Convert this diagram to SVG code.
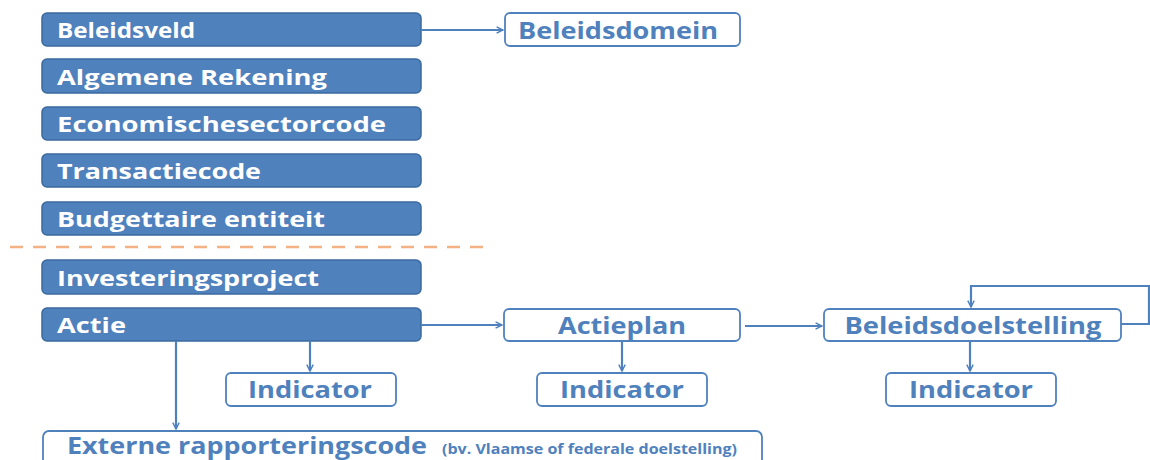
<svg xmlns="http://www.w3.org/2000/svg" width="1150" height="460" viewBox="0 0 1150 460">
<defs>
<style>
.f{fill:#4F81BD;stroke:#3B6A9E;stroke-width:1.5}
.o{fill:#fff;stroke:#4F81BD;stroke-width:1.8}
.tw{font-family:"Open Sans","Liberation Sans",sans-serif;font-weight:bold;font-size:22px;fill:#fff}
.tb{font-family:"Open Sans","Liberation Sans",sans-serif;font-weight:bold;font-size:24px;fill:#4F81BD;text-anchor:middle}
.c{fill:none;stroke:#4F81BD;stroke-width:2.2}
</style>
<marker id="a" viewBox="0 0 10 10" refX="9" refY="5" markerWidth="8" markerHeight="8" markerUnits="userSpaceOnUse" orient="auto">
<path d="M1,1 L9,5 L1,9" fill="none" stroke="#4F81BD" stroke-width="1.8"/>
</marker>
</defs>
<rect width="1150" height="460" fill="#fff"/>
<g id="n-beleidsveld"><rect class="f" x="42" y="13" width="379" height="33" rx="5"/><text class="tw" x="57" y="38" textLength="138" lengthAdjust="spacingAndGlyphs">Beleidsveld</text></g>
<g id="n-algemene"><rect class="f" x="42" y="59" width="379" height="34" rx="5"/><text class="tw" x="57" y="85" textLength="270" lengthAdjust="spacingAndGlyphs">Algemene Rekening</text></g>
<g id="n-economische"><rect class="f" x="42" y="107" width="379" height="33" rx="5"/><text class="tw" x="57" y="132" textLength="329" lengthAdjust="spacingAndGlyphs">Economischesectorcode</text></g>
<g id="n-transactie"><rect class="f" x="42" y="154" width="379" height="33" rx="5"/><text class="tw" x="57" y="179" textLength="204" lengthAdjust="spacingAndGlyphs">Transactiecode</text></g>
<g id="n-budgettaire"><rect class="f" x="42" y="202" width="379" height="33" rx="5"/><text class="tw" x="57" y="227" textLength="268" lengthAdjust="spacingAndGlyphs">Budgettaire entiteit</text></g>
<line x1="10" y1="247" x2="492" y2="247" stroke="#F4B183" stroke-width="2.5" stroke-dasharray="13,10"/>
<g id="n-investeringsproject"><rect class="f" x="42" y="260" width="379" height="34" rx="5"/><text class="tw" x="57" y="286" textLength="262" lengthAdjust="spacingAndGlyphs">Investeringsproject</text></g>
<g id="n-actie"><rect class="f" x="42" y="308" width="379" height="33" rx="5"/><text class="tw" x="57" y="333" textLength="69" lengthAdjust="spacingAndGlyphs">Actie</text></g>
<g id="n-beleidsdomein"><rect class="o" x="505" y="13" width="235" height="33" rx="5"/><text class="tb" x="618" y="39" textLength="200" lengthAdjust="spacingAndGlyphs">Beleidsdomein</text></g>
<g id="n-actieplan"><rect class="o" x="504" y="309" width="236" height="32" rx="5"/><text class="tb" x="622" y="334" textLength="128" lengthAdjust="spacingAndGlyphs">Actieplan</text></g>
<g id="n-beleidsdoelstelling"><rect class="o" x="824" y="309" width="297" height="32" rx="5"/><text class="tb" x="973" y="334" textLength="257" lengthAdjust="spacingAndGlyphs">Beleidsdoelstelling</text></g>
<g id="n-indicator1"><rect class="o" x="226" y="373" width="170" height="33" rx="5"/><text class="tb" x="310" y="398" textLength="124" lengthAdjust="spacingAndGlyphs">Indicator</text></g>
<g id="n-indicator2"><rect class="o" x="537" y="373" width="170" height="33" rx="5"/><text class="tb" x="622" y="398" textLength="124" lengthAdjust="spacingAndGlyphs">Indicator</text></g>
<g id="n-indicator3"><rect class="o" x="886" y="373" width="170" height="33" rx="5"/><text class="tb" x="971" y="398" textLength="124" lengthAdjust="spacingAndGlyphs">Indicator</text></g>
<g id="n-externe"><rect class="o" x="43" y="431" width="719" height="40" rx="6"/>
<text x="67" y="454" font-family="'Open Sans','Liberation Sans',sans-serif" font-weight="bold" font-size="24" fill="#4F81BD" textLength="360" lengthAdjust="spacingAndGlyphs">Externe rapporteringscode</text>
<text x="442" y="454" font-family="'Open Sans','Liberation Sans',sans-serif" font-weight="bold" font-size="15" fill="#4F81BD" textLength="295" lengthAdjust="spacingAndGlyphs">(bv. Vlaamse of federale doelstelling)</text></g>
<g id="connectors">
<line class="c" x1="421" y1="30" x2="503" y2="30" marker-end="url(#a)"/>
<line class="c" x1="421" y1="325" x2="502" y2="325" marker-end="url(#a)"/>
<line class="c" x1="745" y1="326" x2="822" y2="326" marker-end="url(#a)"/>
<polyline class="c" points="1121,324 1149,324 1149,286 971,286 971,307" marker-end="url(#a)"/>
<line class="c" x1="310" y1="341" x2="310" y2="371" marker-end="url(#a)"/>
<line class="c" x1="622" y1="341" x2="622" y2="371" marker-end="url(#a)"/>
<line class="c" x1="970" y1="341" x2="970" y2="371" marker-end="url(#a)"/>
<line class="c" x1="176" y1="341" x2="176" y2="429" marker-end="url(#a)"/>
</g>
</svg>
